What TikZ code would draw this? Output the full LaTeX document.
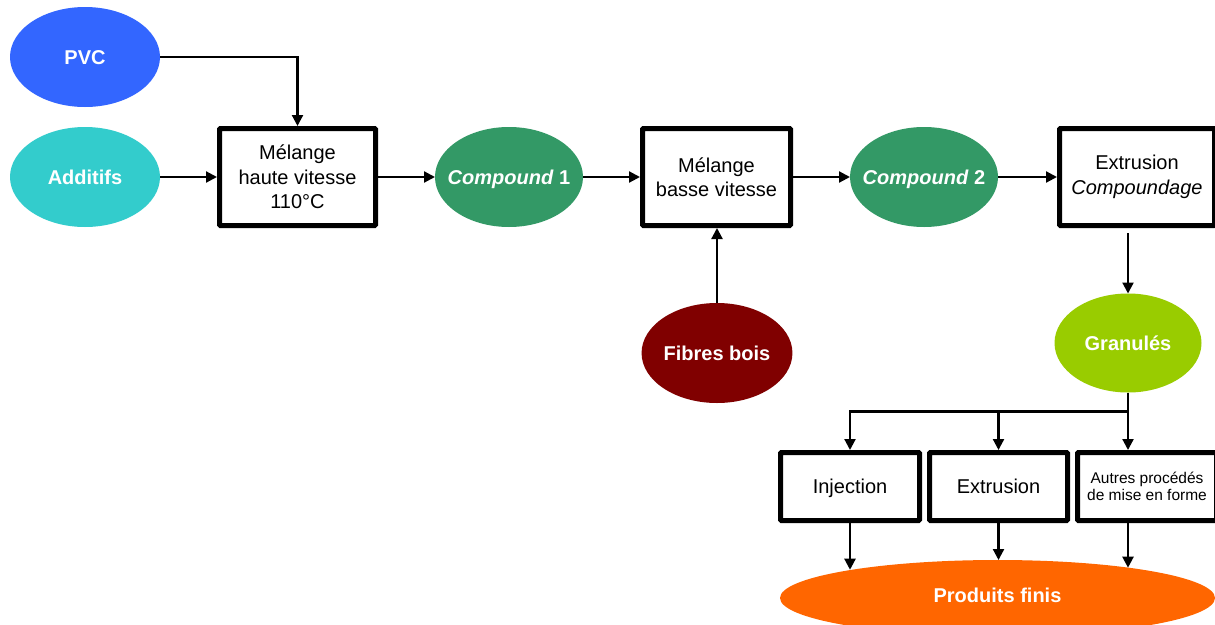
\documentclass[tikz,border=0pt]{standalone}
\usepackage{fontspec}
\setmainfont{Liberation Sans}
\usetikzlibrary{shapes.geometric,arrows.meta}
\definecolor{pvcblue}{HTML}{3366FF}
\definecolor{addcyan}{HTML}{33CCCC}
\definecolor{cgreen}{HTML}{339966}
\definecolor{wood}{HTML}{800000}
\definecolor{granc}{HTML}{99CC00}
\definecolor{orangec}{HTML}{FF6600}
\begin{document}
\begin{tikzpicture}[x=1pt,y=-1pt,
  oval/.style={ellipse,draw=none,inner sep=0pt,outer sep=0pt,minimum width=150pt,minimum height=100pt,text=white,text height=14.3pt,text depth=0pt,font=\fontsize{20}{24}\selectfont\bfseries},
  stepbox/.style={draw=black,line width=5pt,rounded corners=1pt,fill=white,align=center,inner sep=0pt,outer sep=2.5pt,font=\fontsize{20}{24.5}\selectfont},
  oneline/.style={text height=14.3pt,text depth=0pt},
  arr/.style={line width=2.2pt,-{Triangle[length=11pt,width=11pt]}},
  conn/.style={line width=2.2pt}]
\useasboundingbox (0,0) rectangle (1215,624);
\clip (0,0) rectangle (1215,624);
\fill[white] (0,0) rectangle (1215,624);
% top row
\node[oval,fill=pvcblue] (pvc) at (85,57) {PVC};
\node[oval,fill=addcyan] (add) at (85,177) {Additifs};
\node[stepbox,minimum width=156pt,minimum height=97pt] (m1) at (297.5,177) {Mélange\\haute vitesse\\110°C};
\node[oval,fill=cgreen,minimum width=148pt] (c1) at (509,177) {\makebox[0pt][c]{\textit{Compound} 1}};
\node[stepbox,minimum width=148pt,minimum height=97pt] (m2) at (716.5,177) {Mélange\\basse vitesse};
\node[oval,fill=cgreen,minimum width=148pt] (c2) at (924,177) {\makebox[0pt][c]{\textit{Compound} 2}};
\node[stepbox,minimum width=155pt,minimum height=97pt] (ex) at (1137,177) {Extrusion\\\textit{Compoundage}};
% lower part
\node[oval,fill=wood] (fb) at (717,353) {Fibres bois};
\node[oval,fill=granc,minimum width=147pt,minimum height=99pt] (gr) at (1128,343) {Granulés};
\node[stepbox,oneline,minimum width=139pt,minimum height=68pt] (inj) at (850,486.5) {Injection};
\node[stepbox,oneline,minimum width=138pt,minimum height=68pt] (ext) at (998.5,486.5) {Extrusion};
\node[stepbox,minimum width=139pt,minimum height=68pt,font=\fontsize{15.5}{17.5}\selectfont] (aut) at (1147,486.5) {Autres procédés\\de mise en forme};
\node[oval,fill=orangec,minimum width=435pt,minimum height=76pt] (pf) at (997.5,598) {\raisebox{3pt}{Produits finis}};
% connectors
\draw[arr] (pvc.east) -| (m1.north);
\draw[arr] (add) -- (m1);
\draw[arr] (m1) -- (c1);
\draw[arr] (c1) -- (m2);
\draw[arr] (m2) -- (c2);
\draw[arr] (c2) -- (ex);
\draw[arr] (fb.north) -- (fb.north |- m2.south);
\draw[arr,shorten <=5pt] (gr.north |- ex.south) -- (gr.north);
\draw[conn] (gr.south) -- ++(0,19) coordinate (sp);
\draw[arr] (sp) -| (inj.north);
\draw[arr] (sp -| ext.north) -- (ext.north);
\draw[arr] (sp) -- (sp |- aut.north);
\draw[arr] (inj.south) -- (inj.south |- pf.169.25);
\draw[arr] (ext.south) -- (ext.south |- pf.north);
\draw[arr] (sp |- aut.south) -- (sp |- pf.13.1);
\end{tikzpicture}
\end{document}
